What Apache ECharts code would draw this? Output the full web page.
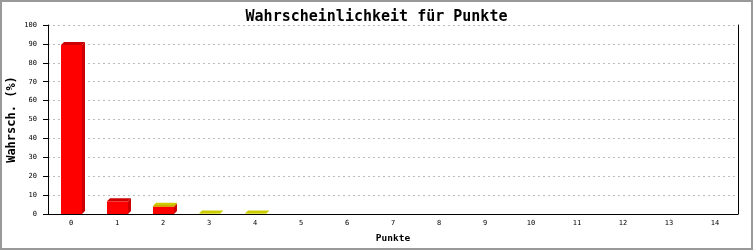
<!DOCTYPE html>
<html><head><meta charset="utf-8">
<script src="https://cdn.jsdelivr.net/npm/echarts@6/dist/echarts.min.js"></script>
<style>html,body{margin:0;padding:0;background:#fff}#c{width:753px;height:250px}</style>
</head><body><div id="c"></div>
<script>
const categories = ['0','1','2','3','4','5','6','7','8','9','10','11','12','13','14'];
const redValues = [89.4, 6.7, 3.9, 0, 0, 0, 0, 0, 0, 0, 0, 0, 0, 0, 0];
const yellowValues = [0, 0, 0.5, 0.2, 0.2, 0, 0, 0, 0, 0, 0, 0, 0, 0, 0];
const titleText = 'Wahrscheinlichkeit für Punkte';
const xName = 'Punkte';
const yName = 'Wahrsch. (%)';

const FONT = 'DejaVu Sans Mono';
const redData = redValues.map((v, i) => [i, 0, v]);
const yellowData = yellowValues.map((v, i) => [i, redValues[i], v]);

function render3D(front, dark) {
  return function (params, api) {
    const x = api.value(0), base = api.value(1), v = api.value(2);
    if (!(v > 0)) return;
    const pb = api.coord([x, base]);
    const pt = api.coord([x, base + v]);
    const w = Math.round(api.size([1, 0])[0] * 0.46);
    const l = Math.round(pb[0] - w / 2), r = l + w, d = 3;
    const top = pt[1], bot = pb[1];
    return {
      type: 'group',
      children: [
        { type: 'rect', shape: { x: l, y: top, width: w, height: bot - top }, style: { fill: front } },
        { type: 'polygon', shape: { points: [[l, top], [l + d, top - d], [r + d, top - d], [r, top]] }, style: { fill: dark } },
        { type: 'polygon', shape: { points: [[r, top], [r + d, top - d], [r + d, bot - d], [r, bot]] }, style: { fill: dark } }
      ]
    };
  };
}

const chart = echarts.init(document.getElementById('c'), null, { renderer: 'canvas' });
chart.setOption({
  animation: false,
  backgroundColor: '#fff',
  title: {
    text: titleText, left: 'center', top: 5,
    textStyle: { fontFamily: FONT, fontSize: 15, fontWeight: 'bold', color: '#000' }
  },
  graphic: [{
    type: 'rect', shape: { x: 1, y: 1, width: 751, height: 248 },
    style: { fill: 'none', stroke: '#999', lineWidth: 2 }, silent: true, z: 100
  }],
  grid: { left: 48, right: 15, top: 25, bottom: 36, containLabel: false, outerBoundsMode: 'none' },
  xAxis: {
    type: 'category', data: categories, boundaryGap: true,
    name: xName, nameLocation: 'middle', nameGap: 20, nameMoveOverlap: false,
    nameTextStyle: { fontFamily: FONT, fontSize: 9.5, fontWeight: 'bold', color: '#000' },
    axisLine: { lineStyle: { color: '#000', width: 1 } },
    axisTick: { show: false },
    axisLabel: { fontFamily: FONT, fontSize: 7, color: '#000', margin: 6, interval: 0 },
    splitLine: { show: false }
  },
  yAxis: [{
    type: 'value', min: 0, max: 100, interval: 10,
    name: yName, nameLocation: 'middle', nameGap: 30, nameRotate: 90, nameMoveOverlap: false,
    nameTextStyle: { fontFamily: FONT, fontSize: 12, fontWeight: 'bold', color: '#000' },
    axisLine: { show: true, lineStyle: { color: '#000', width: 1 } },
    axisTick: { show: true, length: 5, lineStyle: { color: '#000' } },
    axisLabel: { fontFamily: FONT, fontSize: 7, color: '#000', margin: 11 },
    splitLine: { show: true, lineStyle: { color: '#bbb', type: [2, 3], width: 1 } }
  }, {
    type: 'value', min: 0, max: 100, interval: 10, position: 'right',
    axisLine: { show: true, lineStyle: { color: '#000', width: 1 } },
    axisTick: { show: false }, axisLabel: { show: false }, splitLine: { show: false }
  }],
  series: [{
    type: 'custom', name: 'rot', renderItem: render3D('#ff0000', '#cc0000'),
    data: redData, encode: { x: 0, y: 2 }, z: 3
  }, {
    type: 'custom', name: 'gelb', renderItem: render3D('#e6e600', '#cccc00'),
    data: yellowData, encode: { x: 0, y: 2 }, z: 4
  }]
});
</script></body></html>
